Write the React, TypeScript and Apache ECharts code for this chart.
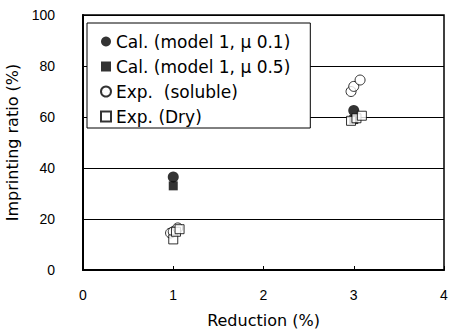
import React, { useEffect, useRef } from "react";
import * as echarts from "echarts";

const legendNames = [
  "Cal. (model 1, μ 0.1)",
  "Cal. (model 1, μ 0.5)",
  "Exp.  (soluble)",
  "Exp. (Dry)",
];
const calMu01: number[][] = [[1, 36.5], [3, 62.5]];
const calMu05: number[][] = [[1, 33], [3, 59]];
const expSoluble: number[][] = [
  [0.97, 14.5], [1.0, 15], [1.05, 16.5],
  [2.97, 70], [3.0, 72], [3.07, 74.5],
];
const expDry: number[][] = [
  [1.0, 12], [1.03, 15], [1.07, 16],
  [2.97, 58.5], [3.03, 59.5], [3.09, 60.5],
];
const xTicks = [0, 1, 2, 3, 4];
const yTicks = [0, 20, 40, 60, 80, 100];

const FONT = "Liberation Sans, Arial, sans-serif";
const WIDE = "DejaVu Sans, sans-serif";

export default function App() {
  const ref = useRef<HTMLDivElement>(null);
  useEffect(() => {
    if (!ref.current) return;
    const chart = echarts.init(ref.current, undefined, { renderer: "svg" });
    chart.setOption({
      animation: false,
      backgroundColor: "#fff",
      textStyle: { fontFamily: FONT },
      grid: {
        left: 83, right: 5, top: 15, bottom: 62,
        outerBoundsMode: "none",
        containLabel: false,
        show: true, borderColor: "#000", borderWidth: 1.5,
      },
      legend: {
        orient: "vertical",
        left: 87, top: 23,
        backgroundColor: "#fff",
        borderColor: "#000",
        borderWidth: 1,
        borderRadius: 0,
        padding: [10, 20, 3, 13],
        itemGap: 8,
        itemWidth: 10,
        itemHeight: 10,
        textStyle: { fontSize: 17, color: "#000", fontFamily: WIDE },
        data: legendNames,
      },
      xAxis: {
        type: "value",
        min: xTicks[0], max: xTicks[xTicks.length - 1], interval: 1,
        name: "Reduction (%)",
        nameLocation: "middle",
        nameGap: 42,
        nameTextStyle: { fontSize: 16, color: "#000", fontFamily: WIDE },
        axisLine: { lineStyle: { color: "#000", width: 2 } },
        axisTick: { inside: true, length: 4, lineStyle: { color: "#000" } },
        axisLabel: { fontSize: 14, color: "#000", margin: 18 },
        splitLine: { show: false },
      },
      yAxis: {
        type: "value",
        min: yTicks[0], max: yTicks[yTicks.length - 1], interval: 20,
        name: "Imprinting ratio (%)",
        nameLocation: "middle",
        nameGap: 55,
        nameTextStyle: { fontSize: 16, color: "#000", fontFamily: WIDE },
        axisLine: { lineStyle: { color: "#000", width: 2 } },
        axisTick: { show: false },
        axisLabel: { fontSize: 14, color: "#000", margin: 28 },
        splitLine: { show: true, lineStyle: { color: "#000", width: 1 } },
      },
      series: [
        {
          name: legendNames[0], type: "scatter", data: calMu01,
          symbol: "circle", symbolSize: 11,
          itemStyle: { color: "#000" },
        },
        {
          name: legendNames[1], type: "scatter", data: calMu05,
          symbol: "rect", symbolSize: 9,
          itemStyle: { color: "#000" },
        },
        {
          name: legendNames[2], type: "scatter", data: expSoluble,
          symbol: "circle", symbolSize: 10,
          itemStyle: { color: "#fff", borderColor: "#000", borderWidth: 1 },
        },
        {
          name: legendNames[3], type: "scatter", data: expDry,
          symbol: "rect", symbolSize: 9,
          itemStyle: { color: "#fff", borderColor: "#000", borderWidth: 1 },
        },
      ],
    });
    return () => chart.dispose();
  }, []);
  return <div ref={ref} style={{ width: 449, height: 332, position: "absolute", left: 0, top: 0 }} />;
}
